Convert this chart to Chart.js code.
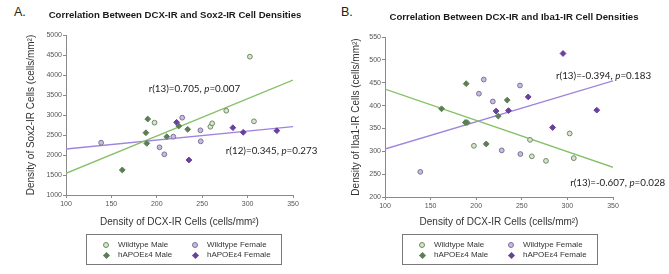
<!DOCTYPE html>
<html>
<head>
<meta charset="utf-8">
<script src="https://cdn.jsdelivr.net/npm/chart.js@4"></script>
<style>
body { margin: 0; width: 669px; height: 274px; overflow: hidden; background: #fff; position: relative; font-family: Arial, "Liberation Sans", sans-serif; }
canvas { position: absolute; top: 0; }
#chartA { left: 0; }
#chartB { left: 335px; }
.tag { position: absolute; top: 5px; font-size: 12.5px; color: #222; }
.legend { position: absolute; top: 234px; width: 194px; height: 29px; border: 1px solid #7a7a7a; }
.item { position: absolute; font-size: 8px; line-height: 10px; color: #333; white-space: nowrap; }
.mk { position: absolute; box-sizing: border-box; }
</style>
</head>
<body>
<div class="tag" style="left:14px">A.</div>
<div class="tag" style="left:341px">B.</div>
<canvas id="chartA" width="350" height="274"></canvas>
<canvas id="chartB" width="358" height="274"></canvas>
<div class="legend" id="legendA" style="left:86px"></div>
<div class="legend" id="legendB" style="left:402px"></div>
<script>
// DCX-IR density per animal (shared by both panels)
var dcxWtMale = [197.5, 259, 261, 276.5, 302.5, 307];
var dcxWtFemale = [138.7, 203, 208.3, 218.2, 228, 248, 248.4];
var dcxApoeMale = [162, 188, 189, 190, 211, 224.2, 234];
var dcxApoeFemale = [221.8, 235.4, 257, 283.8, 295.2, 332.2];

// Sox2-IR density (panel A)
var sox2WtMale = [2808, 2708, 2792, 3108, 4458, 2842];
var sox2WtFemale = [2308, 2192, 2017, 2458, 2933, 2617, 2342];
var sox2ApoeMale = [1625, 2557, 2290, 2900, 2458, 2725, 2642];
var sox2ApoeFemale = [2817, 1875, null, 2683, 2567, 2608];

// Iba1-IR density (panel B)
var iba1WtMale = [312, 325, 289, 279, 339, 285];
var iba1WtFemale = [255, 426, 457, 409, 302, 444, 294];
var iba1ApoeMale = [393, 363, 448, 363, 316, 377, 412];
var iba1ApoeFemale = [388, 389, 419, 352, 514, 390];

// trend lines, ends at x = 100 and 350
var fitX = [100, 350];
var sox2GreenFit = [1542, 3875];
var sox2PurpleFit = [2150, 2708];
var iba1GreenFit = [436, 265];
var iba1PurpleFit = [305, 454];

var groupNames = ['Wildtype Male', 'Wildtype Female', 'hAPOE\u03b54 Male', 'hAPOE\u03b54 Female'];

Chart.defaults.font.family = 'Arial, "Liberation Sans", sans-serif';

var styles = [
    { pointStyle: 'circle', pointRadius: 2.4, backgroundColor: '#d7e6cb', borderColor: '#6f8868' },
    { pointStyle: 'circle', pointRadius: 2.4, backgroundColor: '#c7bbe1', borderColor: '#7b7195' },
    { pointStyle: 'rectRot', pointRadius: 2.9, backgroundColor: '#5d7e55', borderColor: '#5d7e55' },
    { pointStyle: 'rectRot', pointRadius: 2.9, backgroundColor: '#6a3f9e', borderColor: '#6a3f9e' }
];

function pts(xs, ys) {
    return xs.map(function (x, i) { return { x: x, y: ys[i] }; });
}

function pointSet(i, xs, ys) {
    var s = styles[i];
    return {
        label: groupNames[i],
        data: pts(xs, ys),
        pointStyle: s.pointStyle,
        pointRadius: s.pointRadius,
        pointBackgroundColor: s.backgroundColor,
        pointBorderColor: s.borderColor,
        pointBorderWidth: 1,
        showLine: false
    };
}

function fitSet(ys, color) {
    return {
        type: 'line',
        data: pts(fitX, ys),
        borderColor: color,
        borderWidth: 1.3,
        pointRadius: 0,
        fill: false
    };
}

function notes(items) {
    return {
        id: 'notes',
        afterDatasetsDraw: function (chart) {
            var ctx = chart.ctx;
            ctx.save();
            ctx.fillStyle = '#222';
            ctx.textBaseline = 'middle';
            items.forEach(function (n) {
                var x = chart.scales.x.getPixelForValue(n.at[0]);
                var y = chart.scales.y.getPixelForValue(n.at[1]);
                [[n.pre, ''], ['p', 'italic '], [n.post, '']].forEach(function (part) {
                    ctx.font = part[1] + '9.8px Lato';
                    ctx.fillText(part[0], x, y);
                    x += ctx.measureText(part[0]).width;
                });
            });
            ctx.restore();
        }
    };
}

function plain(v) {
    return String(v);
}

function panel(id, o) {
    return new Chart(document.getElementById(id), {
        type: 'scatter',
        data: {
            datasets: [
                pointSet(0, dcxWtMale, o.wtMale),
                pointSet(1, dcxWtFemale, o.wtFemale),
                pointSet(2, dcxApoeMale, o.apoeMale),
                pointSet(3, dcxApoeFemale, o.apoeFemale),
                fitSet(o.greenFit, '#86c068'),
                fitSet(o.purpleFit, '#9f84dc')
            ]
        },
        options: {
            responsive: false,
            animation: false,
            layout: { padding: { bottom: 44 } },
            plugins: {
                legend: { display: false },
                tooltip: { enabled: false },
                title: {
                    display: true,
                    text: o.title,
                    color: '#1a1a1a',
                    font: { size: 9.6, weight: 'bold' },
                    padding: { top: o.titleTop, bottom: o.titleBottom }
                }
            },
            scales: {
                x: {
                    type: 'linear', min: 100, max: 350,
                    ticks: { stepSize: 50, color: '#555', font: { size: 7 }, padding: 2, callback: plain },
                    grid: { drawOnChartArea: false, tickLength: 3, color: '#8a8a8a' },
                    border: { color: '#8a8a8a' },
                    title: {
                        display: true, text: 'Density of DCX-IR Cells (cells/mm\u00b2)',
                        color: '#333', font: { size: 10 }, padding: { top: 0, bottom: 2 }
                    },
                    afterFit: function (s) { s.height = o.xHeight; }
                },
                y: {
                    type: 'linear', min: o.yMin, max: o.yMax,
                    ticks: { stepSize: o.yStep, color: '#555', font: { size: 7 }, padding: 1, callback: plain },
                    grid: { drawOnChartArea: false, tickLength: 3, color: '#8a8a8a' },
                    border: { color: '#8a8a8a' },
                    title: {
                        display: true, text: o.yTitle,
                        color: '#333', font: { size: 10 }, padding: { top: o.yTitlePad, bottom: 0 }
                    },
                    afterFit: function (s) { s.width = o.yWidth; }
                },
                pad: {
                    type: 'linear', position: 'right',
                    ticks: { display: false },
                    grid: { display: false },
                    border: { display: false },
                    afterFit: function (s) { s.width = o.rightWidth; }
                }
            }
        },
        plugins: [notes(o.notes)]
    });
}

panel('chartA', {
    title: 'Correlation Between DCX-IR and Sox2-IR Cell Densities',
    yTitle: 'Density of Sox2-IR Cells (cells/mm\u00b2)',
    yMin: 1000, yMax: 5000, yStep: 500,
    wtMale: sox2WtMale, wtFemale: sox2WtFemale, apoeMale: sox2ApoeMale, apoeFemale: sox2ApoeFemale,
    greenFit: sox2GreenFit, purpleFit: sox2PurpleFit,
    notes: [
        { pre: 'r(13)=0.705, ', post: '=0.007', at: [191, 3650] },
        { pre: 'r(12)=0.345, ', post: '=0.273', at: [276, 2108] }
    ],
    titleTop: 10, titleBottom: 13.5,
    yWidth: 66, yTitlePad: 25.7, rightWidth: 57, xHeight: 35
});

panel('chartB', {
    title: 'Correlation Between DCX-IR and Iba1-IR Cell Densities',
    yTitle: 'Density of Iba1-IR Cells (cells/mm\u00b2)',
    yMin: 200, yMax: 550, yStep: 50,
    wtMale: iba1WtMale, wtFemale: iba1WtFemale, apoeMale: iba1ApoeMale, apoeFemale: iba1ApoeFemale,
    greenFit: iba1GreenFit, purpleFit: iba1PurpleFit,
    notes: [
        { pre: 'r(13)=-0.394, ', post: '=0.183', at: [287.5, 465] },
        { pre: 'r(13)=-0.607, ', post: '=0.028', at: [303, 232] }
    ],
    titleTop: 11.5, titleBottom: 14,
    yWidth: 50, yTitlePad: 15.7, rightWidth: 80, xHeight: 33
});

// legend boxes: two columns, two rows
function legend(id) {
    var box = document.getElementById(id);
    var cols = [19, 108], textOff = 12, rows = [10, 20];
    [0, 1, 2, 3].forEach(function (g, k) {
        var cx = cols[k % 2], cy = rows[Math.floor(k / 2)];
        var s = styles[g];
        var m = document.createElement('span');
        m.className = 'mk';
        var size = s.pointStyle === 'circle' ? 6 : 5;
        m.style.width = size + 'px';
        m.style.height = size + 'px';
        m.style.left = (cx - size / 2) + 'px';
        m.style.top = (cy - size / 2) + 'px';
        m.style.background = s.backgroundColor;
        if (s.pointStyle === 'circle') {
            m.style.borderRadius = '50%';
            m.style.border = '1px solid ' + s.borderColor;
        } else {
            m.style.transform = 'rotate(45deg)';
        }
        box.appendChild(m);
        var t = document.createElement('span');
        t.className = 'item';
        t.textContent = groupNames[g];
        t.style.left = (cx + textOff) + 'px';
        t.style.top = (cy - 5) + 'px';
        box.appendChild(t);
    });
}
legend('legendA');
legend('legendB');
</script>
</body>
</html>
